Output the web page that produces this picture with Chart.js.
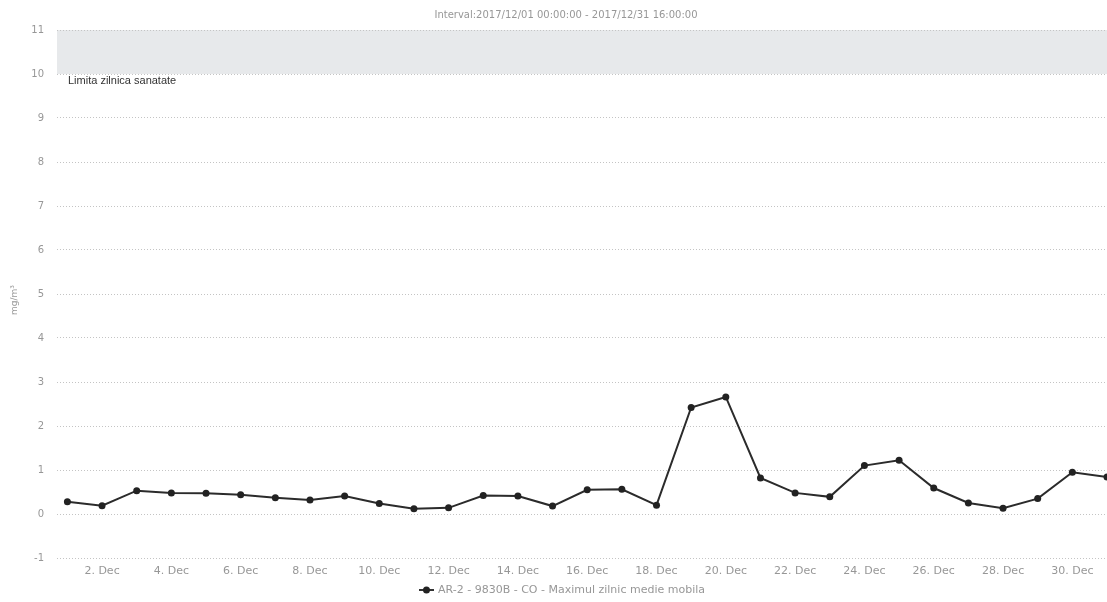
<!DOCTYPE html>
<html>
<head>
<meta charset="utf-8">
<title>CO - Maximul zilnic medie mobila</title>
<script src="https://cdn.jsdelivr.net/npm/chart.js"></script>
<style>
    html, body { margin: 0; padding: 0; background: #ffffff; }
    #wrap { width: 1107px; height: 602px; }
</style>
</head>
<body>
<div id="wrap"><canvas id="coChart" width="1107" height="602"></canvas></div>
<script>
const titleText = "Interval:2017/12/01 00:00:00 - 2017/12/31 16:00:00";
const seriesLabel = "AR-2 - 9830B - CO - Maximul zilnic medie mobila";
const yAxisTitle = "mg/m³";

// day of December for each point
const days = [1, 2, 3, 4, 5, 6, 7, 8, 9, 10, 11, 12, 13, 14, 15, 16,
    17, 18, 19, 20, 21, 22, 23, 24, 25, 26, 27, 28, 29, 30, 31];
const values = [0.28, 0.19, 0.53, 0.48, 0.47, 0.44, 0.37, 0.32, 0.41, 0.24, 0.12, 0.14, 0.42, 0.41, 0.18, 0.55,
    0.56, 0.20, 2.42, 2.66, 0.82, 0.48, 0.39, 1.10, 1.22, 0.59, 0.25, 0.13, 0.35, 0.95, 0.84];

const tickDays = [2, 4, 6, 8, 10, 12, 14, 16, 18, 20, 22, 24, 26, 28, 30];
const tickLabels = ["2. Dec", "4. Dec", "6. Dec", "8. Dec", "10. Dec", "12. Dec", "14. Dec", "16. Dec",
    "18. Dec", "20. Dec", "22. Dec", "24. Dec", "26. Dec", "28. Dec", "30. Dec"];

// health limit band
const bandFrom = 10;
const bandTo = 11;
const bandLabel = "Limita zilnica sanatate";

const textGray = "#979797";

const decorPlugin = {
    id: "decor",
    beforeDraw(chart) {
        const { ctx, chartArea, scales } = chart;
        const top = scales.y.getPixelForValue(bandTo);
        const bottom = scales.y.getPixelForValue(bandFrom);
        ctx.save();
        ctx.fillStyle = "#e7e9eb";
        ctx.fillRect(chartArea.left, top, chartArea.right - chartArea.left, bottom - top);

        ctx.fillStyle = "#333333";
        ctx.font = "11px 'Liberation Sans', Arial, sans-serif";
        ctx.textBaseline = "top";
        ctx.textAlign = "left";
        ctx.fillText(bandLabel, chartArea.left + 11, bottom + 1);

        // title
        ctx.fillStyle = textGray;
        ctx.font = "10px 'DejaVu Sans', sans-serif";
        ctx.textAlign = "center";
        ctx.textBaseline = "middle";
        ctx.fillText(titleText, 566, 15);

        // y axis title
        ctx.translate(15, 300);
        ctx.rotate(-Math.PI / 2);
        ctx.font = "9px 'DejaVu Sans', sans-serif";
        ctx.fillText(yAxisTitle, 0, 0);
        ctx.restore();
    },
    afterDraw(chart) {
        const { ctx } = chart;
        const label = chart.data.datasets[0].label;
        ctx.save();
        ctx.font = "11px 'DejaVu Sans', sans-serif";
        const textWidth = ctx.measureText(label).width;
        const total = 19 + textWidth;
        const start = 562 - total / 2;
        const y = 590;
        ctx.strokeStyle = "#333333";
        ctx.lineWidth = 2;
        ctx.beginPath();
        ctx.moveTo(start, y);
        ctx.lineTo(start + 15, y);
        ctx.stroke();
        ctx.fillStyle = "#222222";
        ctx.beginPath();
        ctx.arc(start + 7.5, y, 3.5, 0, Math.PI * 2);
        ctx.fill();
        ctx.fillStyle = textGray;
        ctx.textBaseline = "middle";
        ctx.textAlign = "left";
        ctx.fillText(label, start + 19, y);
        ctx.restore();
    },
};

function initializeChart() {
    const context = document.getElementById("coChart").getContext("2d");
    return new Chart(context, {
        type: "line",
        data: {
            datasets: [
                {
                    label: seriesLabel,
                    data: days.map((day, index) => ({ x: day, y: values[index] })),
                    borderColor: "#2b2b2b",
                    borderWidth: 2,
                    tension: 0,
                    pointRadius: 3.5,
                    pointHoverRadius: 3.5,
                    pointBackgroundColor: "#222222",
                    pointBorderWidth: 0,
                    clip: false,
                },
            ],
        },
        options: {
            responsive: false,
            animation: false,
            devicePixelRatio: 1,
            layout: {
                autoPadding: false,
                padding: { top: 30, right: 0, bottom: 0, left: 0 },
            },
            plugins: {
                legend: { display: false },
                tooltip: { enabled: false },
            },
            scales: {
                x: {
                    type: "linear",
                    min: 0.7,
                    max: 31,
                    grid: { display: false, drawTicks: false },
                    border: { display: false },
                    afterBuildTicks: (scale) => {
                        scale.ticks = tickDays.map((value) => ({ value }));
                    },
                    afterFit: (scale) => {
                        scale.height = 44;
                    },
                    ticks: {
                        color: textGray,
                        padding: 7,
                        maxRotation: 0,
                        autoSkip: false,
                        font: { family: "'DejaVu Sans', sans-serif", size: 11 },
                        callback: (value) => tickLabels[tickDays.indexOf(value)],
                    },
                },
                y: {
                    min: -1,
                    max: 11,
                    grid: { color: "#c4c4c4", lineWidth: 1, drawTicks: false },
                    border: { display: false, dash: [1, 2] },
                    afterFit: (scale) => {
                        scale.width = 57;
                    },
                    ticks: {
                        stepSize: 1,
                        color: textGray,
                        padding: 13,
                        font: { family: "'DejaVu Sans', sans-serif", size: 10 },
                    },
                },
            },
        },
        plugins: [decorPlugin],
    });
}

initializeChart();
</script>
</body>
</html>
